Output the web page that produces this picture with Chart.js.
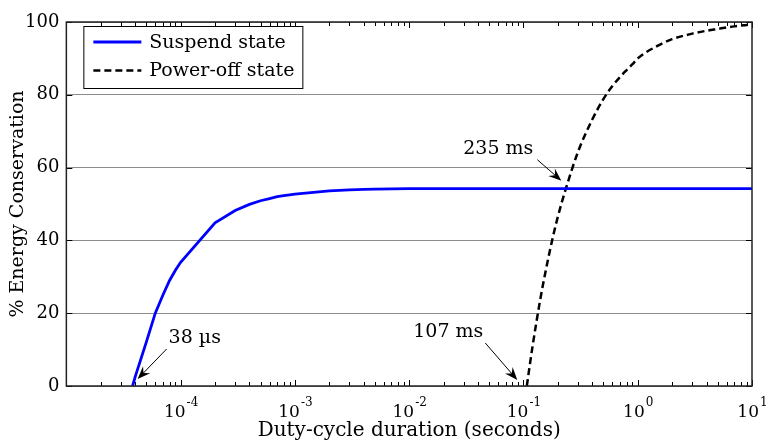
<!DOCTYPE html>
<html>
<head>
<meta charset="utf-8">
<script src="https://cdn.jsdelivr.net/npm/chart.js@4.4.1/dist/chart.umd.min.js"></script>
<style>
  html, body { margin: 0; padding: 0; background: #fff; }
  #wrap { width: 767px; height: 443px; }
</style>
</head>
<body>
<div id="wrap"><canvas id="chart" width="767" height="443"></canvas></div>
<script>
// duty-cycle durations (s) and energy conservation (%) per state
const suspendX = [3.8e-5, 4e-5, 5e-5, 6e-5, 7e-5, 8e-5, 9e-5, 1e-4, 2e-4, 3e-4, 4e-4, 5e-4,
  6e-4, 7e-4, 8e-4, 9e-4, 1e-3, 2e-3, 3e-3, 4e-3, 5e-3, 1e-2, 10];
const suspendY = [0, 2.5, 12, 20, 25, 29, 31.8, 34, 44.8, 48.2, 49.9, 50.9,
  51.5, 52, 52.3, 52.5, 52.7, 53.6, 53.9, 54.0, 54.1, 54.2, 54.2];

const powerOffX = [0.107, 0.12, 0.14, 0.16, 0.18, 0.2, 0.235, 0.3, 0.4, 0.5, 0.6, 0.7,
  0.8, 0.9, 1, 1.5, 2, 3, 4, 5, 6, 7, 8, 9, 10];
const powerOffY = [0, 10.8, 23.6, 33.1, 40.6, 46.5, 54.2, 64.3, 73.2, 78.8, 82.4, 84.9,
  86.8, 88.4, 90, 93.5, 95.3, 96.8, 97.6, 98.1, 98.5, 98.8, 99.0, 99.2, 99.3];

const seriesNames = ['Suspend state', 'Power-off state'];
const yTicks = [0, 20, 40, 60, 80, 100];
const decadeExps = [-4, -3, -2, -1, 0, 1];
const yTitle = '% Energy Conservation';

// callouts: text and the point each one marks
const calloutText = ['38 \u00b5s', '107 ms', '235 ms'];
const calloutX = [3.8e-5, 0.107, 0.235];
const calloutY = [0, 0, 54.2];

const FONT = 'DejaVu Serif';

function toPoints(xs, ys) {
  return xs.map((x, i) => ({ x: x, y: ys[i] }));
}

function drawArrow(ctx, x0, y0, x1, y1) {
  const ang = Math.atan2(y1 - y0, x1 - x0);
  const len = 13, half = 5;
  ctx.save();
  ctx.strokeStyle = '#000';
  ctx.fillStyle = '#000';
  ctx.lineWidth = 1;
  ctx.beginPath();
  ctx.moveTo(x0, y0);
  ctx.lineTo(x1 - Math.cos(ang) * len * 0.6, y1 - Math.sin(ang) * len * 0.6);
  ctx.stroke();
  ctx.translate(x1, y1);
  ctx.rotate(ang);
  ctx.beginPath();
  ctx.moveTo(0, 0);
  ctx.lineTo(-len, -half);
  ctx.lineTo(-len * 0.65, 0);
  ctx.lineTo(-len, half);
  ctx.closePath();
  ctx.fill();
  ctx.restore();
}

const frame = {
  id: 'frame',
  afterDraw(chart) {
    const ctx = chart.ctx;
    const a = chart.chartArea;
    const xs = chart.scales.x;
    const ys = chart.scales.y;

    ctx.save();
    // minor and major ticks, inward, top and bottom
    ctx.strokeStyle = '#000';
    ctx.lineWidth = 1;
    ctx.beginPath();
    for (let e = -5; e <= 0; e++) {
      for (let k = 1; k <= 10; k++) {
        const v = k * Math.pow(10, e);
        const px = Math.round(xs.getPixelForValue(v)) + 0.5;
        const len = (k === 1 || k === 10) ? 6 : 4;
        ctx.moveTo(px, a.bottom); ctx.lineTo(px, a.bottom - len);
        ctx.moveTo(px, a.top); ctx.lineTo(px, a.top + len);
      }
    }
    yTicks.forEach(t => {
      const py = Math.round(ys.getPixelForValue(t)) + 0.5;
      ctx.moveTo(a.left, py); ctx.lineTo(a.left + 6, py);
      ctx.moveTo(a.right, py); ctx.lineTo(a.right - 6, py);
    });
    ctx.stroke();

    // axes box
    ctx.lineWidth = 1.5;
    ctx.strokeStyle = '#222';
    ctx.strokeRect(a.left, a.top, a.right - a.left, a.bottom - a.top);

    // decade labels with superscript exponents
    ctx.fillStyle = '#000';
    ctx.textBaseline = 'alphabetic';
    ctx.textAlign = 'left';
    decadeExps.forEach(e => {
      const px = xs.getPixelForValue(Math.pow(10, e));
      ctx.font = '17px "' + FONT + '"';
      const wBase = ctx.measureText('10').width;
      ctx.font = '12px "' + FONT + '"';
      const sup = String(e);
      const wSup = ctx.measureText(sup).width;
      const x0 = px - (wBase + wSup) / 2;
      ctx.font = '17px "' + FONT + '"';
      ctx.fillText('10', x0, a.bottom + 31);
      ctx.font = '12px "' + FONT + '"';
      ctx.fillText(sup, x0 + wBase + 1, a.bottom + 20);
    });

    // y axis title
    ctx.save();
    ctx.translate(18, (a.top + a.bottom) / 2);
    ctx.rotate(-Math.PI / 2);
    ctx.font = '19px "' + FONT + '"';
    ctx.textAlign = 'center';
    ctx.textBaseline = 'middle';
    ctx.fillText(yTitle, 0, 0);
    ctx.restore();

    // legend
    const lx = a.left + 17, ly = a.top + 4, lw = 219, lh = 62;
    ctx.fillStyle = '#fff';
    ctx.fillRect(lx, ly, lw, lh);
    ctx.lineWidth = 1;
    ctx.strokeStyle = '#000';
    ctx.strokeRect(lx + 0.5, ly + 0.5, lw, lh);
    chart.data.datasets.forEach((ds, i) => {
      const ry = ly + 16 + i * 28.5;
      ctx.beginPath();
      ctx.strokeStyle = ds.borderColor;
      ctx.lineWidth = ds.borderWidth;
      ctx.setLineDash(ds.borderDash || []);
      ctx.moveTo(lx + 10, ry);
      ctx.lineTo(lx + 58, ry);
      ctx.stroke();
      ctx.setLineDash([]);
      ctx.fillStyle = '#000';
      ctx.font = '19px "' + FONT + '"';
      ctx.textBaseline = 'middle';
      ctx.textAlign = 'left';
      ctx.fillText(ds.label, lx + 66, ry + 1);
    });

    // callouts: [tip dx, tip dy, tail dx, tail dy, text dx, text dy, align]
    const offs = [
      [5, -7, 34, -37, 36, -48, 'left'],
      [-9.5, -6, -41.5, -43, -43.5, -54, 'right'],
      [-4.5, -8, -28.5, -29, -32.5, -40, 'right']
    ];
    calloutText.forEach((txt, i) => {
      const px = xs.getPixelForValue(calloutX[i]);
      const py = ys.getPixelForValue(calloutY[i]);
      const o = offs[i];
      drawArrow(ctx, px + o[2], py + o[3], px + o[0], py + o[1]);
      ctx.fillStyle = '#000';
      ctx.font = '19px "' + FONT + '"';
      ctx.textBaseline = 'middle';
      ctx.textAlign = o[6];
      ctx.fillText(txt, px + o[4], py + o[5]);
    });
    ctx.restore();
  }
};

new Chart(document.getElementById('chart'), {
  type: 'line',
  data: {
    datasets: [
      {
        label: seriesNames[0],
        data: toPoints(suspendX, suspendY),
        borderColor: '#0000ff',
        borderWidth: 2.8,
        pointRadius: 0,
        tension: 0
      },
      {
        label: seriesNames[1],
        data: toPoints(powerOffX, powerOffY),
        borderColor: '#000000',
        borderWidth: 2.5,
        borderDash: [7, 4],
        pointRadius: 0,
        cubicInterpolationMode: 'monotone'
      }
    ]
  },
  options: {
    responsive: false,
    animation: false,
    layout: { padding: { left: 18, right: 15, top: 22, bottom: 0 } },
    plugins: { legend: { display: false }, tooltip: { enabled: false } },
    scales: {
      x: {
        type: 'logarithmic',
        min: 1e-5,
        max: 10,
        grid: { display: false },
        border: { display: false },
        ticks: { display: false },
        title: {
          display: true,
          text: 'Duty-cycle duration (seconds)',
          color: '#000',
          font: { family: FONT, size: 20 },
          padding: { top: 25, bottom: 0 }
        }
      },
      y: {
        min: 0,
        max: 100,
        grid: { color: '#8c8c8c', lineWidth: 1, drawTicks: false },
        border: { display: false },
        afterBuildTicks: axis => { axis.ticks = yTicks.map(v => ({ value: v })); },
        ticks: {
          color: '#000',
          font: { family: FONT, size: 18 },
          padding: 7
        },
        title: { display: false }
      }
    }
  },
  plugins: [frame]
});
</script>
</body>
</html>
